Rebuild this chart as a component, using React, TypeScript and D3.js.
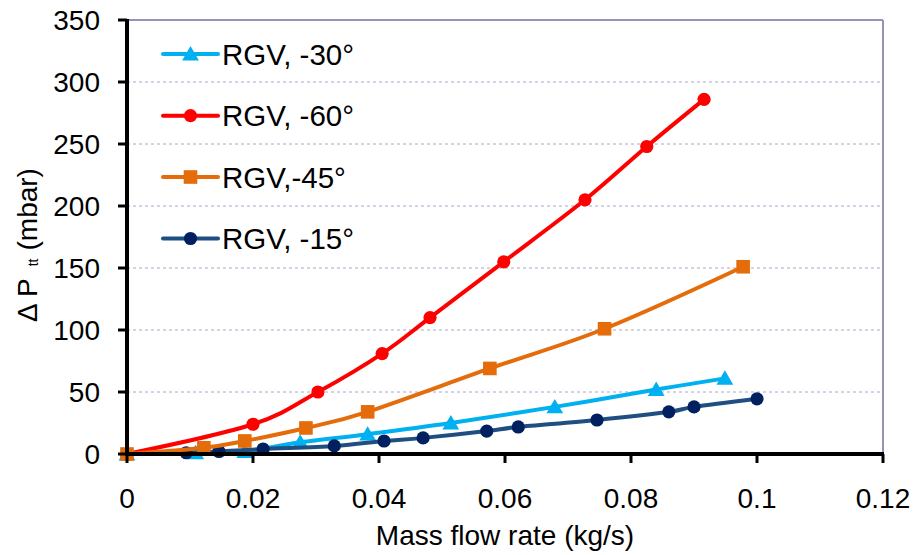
import React from "react";
import * as d3 from "d3";

const xTicks = [0, 0.02, 0.04, 0.06, 0.08, 0.1, 0.12];
const yTicks = [0, 50, 100, 150, 200, 250, 300, 350];

const s30x = [0, 0.0109, 0.0187, 0.0275, 0.0382, 0.0514, 0.0679, 0.084, 0.0949];
const s30y = [0, 1, 2, 9.5, 16, 25, 38, 52, 61];

const s60x = [0, 0.02, 0.0303, 0.0405, 0.0481, 0.0598, 0.0727, 0.0825, 0.0916];
const s60y = [0, 24, 50, 81, 110, 155, 205, 248, 286];

const s45x = [0, 0.0122, 0.0187, 0.0284, 0.0382, 0.0576, 0.0758, 0.0978];
const s45y = [0, 5, 10.5, 21, 34, 69, 101, 151];

const s15x = [0, 0.0094, 0.0146, 0.0216, 0.0329, 0.0408, 0.047, 0.0571, 0.0621, 0.0746, 0.086, 0.09, 0.1];
const s15y = [0, 1, 2, 4, 6.5, 10.5, 13, 18.5, 21.8, 27.4, 34, 38, 44.5];

const seriesNames = ["RGV, -30°", "RGV, -60°", "RGV,-45°", "RGV, -15°"];

type Series = {
  name: string;
  xs: number[];
  ys: number[];
  line: string;
  marker: string;
  shape: "tri" | "circle" | "square";
};

const series: Series[] = [
  { name: seriesNames[0], xs: s30x, ys: s30y, line: "#00B0F0", marker: "#00B0F0", shape: "tri" },
  { name: seriesNames[1], xs: s60x, ys: s60y, line: "#FF0000", marker: "#FF0000", shape: "circle" },
  { name: seriesNames[2], xs: s45x, ys: s45y, line: "#E46C0A", marker: "#E46C0A", shape: "square" },
  { name: seriesNames[3], xs: s15x, ys: s15y, line: "#1F4E80", marker: "#002060", shape: "circle" },
];
const drawOrder = [0, 1, 3, 2];

const W = 915, H = 555;
const L = 127, R = 883, T = 20, B = 454;
const FONT = "Arial, 'Liberation Sans', sans-serif";

function Marker({ shape, x, y, color }: { shape: string; x: number; y: number; color: string }) {
  if (shape === "circle") return <circle cx={x} cy={y} r={6.6} fill={color} />;
  if (shape === "square") return <rect x={x - 6.8} y={y - 6.8} width={13.6} height={13.6} fill={color} />;
  const s = 8;
  return <path d={`M${x},${y - s}L${x + s * 1.05},${y + s * 0.8}L${x - s * 1.05},${y + s * 0.8}Z`} fill={color} />;
}

export default function App() {
  const x = d3.scaleLinear().domain([0, 0.12]).range([L, R]);
  const y = d3.scaleLinear().domain([0, 350]).range([B, T]);
  const line = d3
    .line<[number, number]>()
    .x((d) => x(d[0]))
    .y((d) => y(d[1]))
    .curve(d3.curveCardinal.tension(0));

  const legendY = [54, 115.7, 177, 238.5];

  return (
    <svg width={W} height={H} style={{ position: "absolute", left: 0, top: 0, background: "#fff" }} fontFamily={FONT}>
      <rect x={0} y={0} width={W} height={H} fill="#fff" />
      {yTicks.filter((t) => t > 0 && t < 350).map((t) => (
        <line key={t} x1={L} x2={R} y1={y(t)} y2={y(t)} stroke="#A8A8CC" strokeWidth={1} strokeDasharray="3,3" />
      ))}
      <line x1={L} x2={R} y1={T} y2={T} stroke="#9494B4" strokeWidth={2} />
      <line x1={R} x2={R} y1={T} y2={B} stroke="#9494B4" strokeWidth={2} />

      {drawOrder.map((i) => {
        const s = series[i];
        const pts: [number, number][] = s.xs.map((v, j) => [v, s.ys[j]]);
        return (
          <g key={s.name}>
            <path d={line(pts) || ""} fill="none" stroke={s.line} strokeWidth={4} strokeLinejoin="round" strokeLinecap="round" />
            {pts.map((p, j) => (
              <Marker key={j} shape={s.shape} x={x(p[0])} y={y(p[1])} color={s.marker} />
            ))}
          </g>
        );
      })}

      <line x1={L} x2={L} y1={T - 1} y2={B + 2} stroke="#000" strokeWidth={4} />
      <line x1={L - 2} x2={R + 1} y1={B} y2={B} stroke="#000" strokeWidth={4} />
      {yTicks.map((t) => (
        <g key={t}>
          <line x1={L - 9} x2={L} y1={y(t)} y2={y(t)} stroke="#000" strokeWidth={3} />
          <text x={100} y={y(t)} dy="0.35em" textAnchor="end" fontSize={28} fill="#000">
            {t}
          </text>
        </g>
      ))}
      {xTicks.map((t) => (
        <g key={t}>
          <line x1={x(t)} x2={x(t)} y1={B} y2={B + 9} stroke="#000" strokeWidth={3} />
          <text x={x(t)} y={508} textAnchor="middle" fontSize={28} fill="#000">
            {t}
          </text>
        </g>
      ))}

      <text x={(L + R) / 2} y={545} textAnchor="middle" fontSize={28} fill="#000">
        Mass flow rate (kg/s)
      </text>
      <text transform="translate(37,245) rotate(-90)" textAnchor="middle" fontSize={28} fill="#000">
        <tspan>Δ P</tspan>
        <tspan fontSize={14} dx={12} dy={1}>tt</tspan>
        <tspan dx={8} dy={-1}>(mbar)</tspan>
      </text>

      {series.map((s, i) => (
        <g key={s.name}>
          <line x1={163} x2={218} y1={legendY[i]} y2={legendY[i]} stroke={s.line} strokeWidth={4} strokeLinecap="round" />
          <Marker shape={s.shape} x={190.5} y={legendY[i]} color={s.marker} />
          <text x={222} y={legendY[i] + 10.5} fontSize={29.5} fill="#000">
            {s.name}
          </text>
        </g>
      ))}
    </svg>
  );
}
